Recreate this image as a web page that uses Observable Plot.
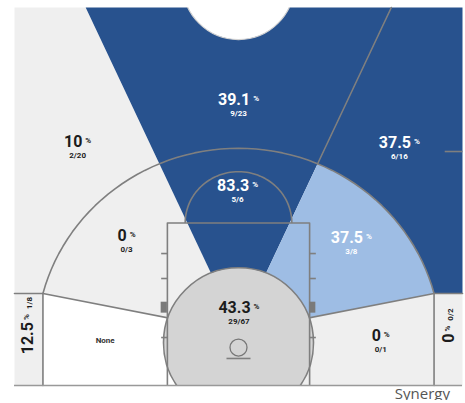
<!DOCTYPE html>
<html><head><meta charset="utf-8">
<script src="https://cdn.jsdelivr.net/npm/d3@7"></script>
<script src="https://cdn.jsdelivr.net/npm/@observablehq/plot@0.6"></script>
<style>
html,body{margin:0;padding:0;background:#fff;}
#chart svg{display:block;}
#src{font-family:"Open Sans",sans-serif;font-size:15px;color:#555;text-align:right;padding-right:15px;line-height:14px;height:14px;margin-top:-2.5px;}
</style></head><body>
<div id="chart"></div><div id="src">Synergy</div>
<script>
// ---- data ----
const zones    = ["Left Corner 3","Left Wing 3","Top 3","Right Wing 3","Right Corner 3",
                  "Left Baseline Mid","Left Wing Mid","Center Mid","Right Wing Mid","Right Baseline Mid","Restricted Area"];
const made     = [1, 2, 9, 6, 0, 0, 0, 5, 3, 0, 29];
const attempts = [8, 20, 23, 16, 2, 0, 3, 6, 8, 1, 67];
const heat     = ["cold","cold","hot","hot","cold","none","cold","hot","warm","cold","avg"];
const levels      = ["none","cold","avg","warm","hot"];
const levelColors = ["#ffffff","#efefef","#d4d4d4","#9ebde4","#28528e"];
const lightText   = ["warm","hot"];

// ---- layout: label anchors in court feet (x from centre, y from baseline) ----
const labelAt = {
  "Left Corner 3":[-23.65,7.0], "Left Wing 3":[-18.1,28.45], "Top 3":[0,33.4],
  "Right Wing 3":[18.1,28.35], "Right Corner 3":[23.65,7.0],
  "Left Baseline Mid":[-15.0,5.26], "Left Wing Mid":[-12.6,17.45], "Center Mid":[-0.1,23.3],
  "Right Wing Mid":[12.7,17.3], "Right Baseline Mid":[16.0,5.8], "Restricted Area":[0.05,9.1]
};
const rotated = ["Left Corner 3","Right Corner 3"];

// ---- court geometry (feet) ----
const deg = Math.PI/180;
const X0=-25.2, X1=25.2, Y0=0, Y1=44.2;
const HOOP={x:0,y:5};
const CX=22, CY=10.76;
const R3=Math.hypot(CX, CY-HOOP.y);
const O={x:0,y:6.3};
const SPLIT=24.4;
const aL=90+SPLIT, aR=90-SPLIT;
function rayHitArc(a){
  const dx=Math.cos(a*deg), dy=Math.sin(a*deg);
  const ux=O.x-HOOP.x, uy=O.y-HOOP.y;
  const b=ux*dx+uy*dy;
  const t=-b+Math.sqrt(b*b-(ux*ux+uy*uy)+R3*R3);
  return {x:O.x+t*dx, y:O.y+t*dy};
}
function rayHitTop(a){
  const dx=Math.cos(a*deg), dy=Math.sin(a*deg);
  const t=(Y1-O.y)/dy; return {x:O.x+t*dx, y:Y1};
}
const phiOf=p=>Math.atan2(p.y-HOOP.y,p.x-HOOP.x)/deg;
function arc(cx,cy,r,p1,p2,n=60){
  const out=[]; for(let i=0;i<=n;i++){const p=(p1+(p2-p1)*i/n)*deg; out.push({x:cx+r*Math.cos(p),y:cy+r*Math.sin(p)});} return out;
}
const pL=rayHitArc(aL), pR=rayHitArc(aR), tL=rayHitTop(aL), tR=rayHitTop(aR);
const phiL=phiOf(pL), phiR=phiOf(pR), phiC=Math.atan2(CY-HOOP.y,CX)/deg;
const a3=(p1,p2)=>arc(HOOP.x,HOOP.y,R3,p1,p2);
const shapes={
  "Left Corner 3":[{x:X0,y:0},{x:-CX,y:0},{x:-CX,y:CY},{x:X0,y:CY}],
  "Left Wing 3":[{x:X0,y:CY},...a3(180-phiC,phiL),tL,{x:X0,y:Y1}],
  "Top 3":[...a3(phiL,phiR),tR,tL],
  "Right Wing 3":[...a3(phiR,phiC),{x:X1,y:CY},{x:X1,y:Y1},tR],
  "Right Corner 3":[{x:CX,y:0},{x:X1,y:0},{x:X1,y:CY},{x:CX,y:CY}],
  "Left Baseline Mid":[O,{x:-CX,y:CY},{x:-CX,y:0},{x:0,y:0}],
  "Left Wing Mid":[O,...a3(180-phiC,phiL)],
  "Center Mid":[O,...a3(phiL,phiR)],
  "Right Wing Mid":[O,...a3(phiR,phiC)],
  "Right Baseline Mid":[O,{x:0,y:0},{x:CX,y:0},{x:CX,y:CY}]
};
const polyRows=zones.flatMap((z,i)=>(shapes[z]||[]).map(p=>({zone:z,level:heat[i],x:p.x,y:p.y})));
const raRow=[{x:HOOP.x,y:HOOP.y,level:heat[zones.indexOf("Restricted Area")]}];

const LINE="#7f7f7f";
const segs=[];
const addSeg=(id,pts)=>pts.forEach(p=>segs.push({id,x:p.x,y:p.y}));
addSeg("three",[{x:-CX,y:0},...a3(180-phiC,phiC),{x:CX,y:0}]);
addSeg("ctopL",[{x:X0,y:CY},{x:-CX,y:CY}]);
addSeg("ctopR",[{x:CX,y:CY},{x:X1,y:CY}]);
addSeg("rayTopR",[pR,tR]);
addSeg("baseL",[{x:-CX,y:CY},O]);
addSeg("baseR",[{x:CX,y:CY},O]);
const courtSegs=[];
const addC=(id,pts)=>pts.forEach(p=>courtSegs.push({id,x:p.x,y:p.y}));
addC("lane",[{x:-8,y:0},{x:-8,y:19},{x:8,y:19},{x:8,y:0}]);
addC("ft",arc(0,19,6,180,0));
[15.43,12.51,5.61].forEach((y,k)=>{addC("tl"+k,[{x:-8.7,y},{x:-8,y}]);addC("tr"+k,[{x:8,y},{x:8.7,y}]);});
addC("board",[{x:-1.35,y:3.16},{x:1.35,y:3.16}]);
addC("side",[{x:23.2,y:27.36},{x:X1,y:27.36}]);
const blocks=[{x1:-8.7,x2:-8,y1:8.46,y2:9.74},{x1:8,x2:8.7,y1:8.46,y2:9.74}];

// ---- labels ----
const fmtPct=v=>d3.format(".1f")(v).replace(/\.0$/,"");
const labelRows=zones.map((z,i)=>({zone:z,level:heat[i],x:labelAt[z][0],y:labelAt[z][1],
  pct:attempts[i]?fmtPct(100*made[i]/attempts[i]):"None",frac:`${made[i]}/${attempts[i]}`,att:attempts[i]}));
const flat=labelRows.filter(d=>!rotated.includes(d.zone)&&d.att>0);
const flatLight=flat.filter(d=>lightText.includes(d.level));
const flatDark=flat.filter(d=>!lightText.includes(d.level));
const noneRows=labelRows.filter(d=>d.att===0);
const cornerRows=labelRows.filter(d=>rotated.includes(d.zone));
const FONT="Roboto, 'Liberation Sans', sans-serif";
const DARK="#1c1c1c";

const svg=Plot.plot({
  width:465,height:388,marginLeft:14,marginRight:3,marginTop:7,marginBottom:3,
  x:{domain:[X0,X1],axis:null},y:{domain:[Y0,Y1],axis:null},
  color:{domain:levels,range:levelColors},
  style:{fontFamily:FONT,background:"transparent"},
  marks:[
    Plot.line(polyRows,{x:"x",y:"y",z:"zone",fill:"level",stroke:"none",curve:"linear-closed"}),
    Plot.dot([{x:0,y:47}],{x:"x",y:"y",r:56,fill:"white",stroke:"#d2d2d2",strokeWidth:1.2,clip:true}),
    Plot.line(segs,{x:"x",y:"y",z:"id",stroke:LINE,strokeWidth:1.6}),
    Plot.dot(raRow,{x:"x",y:"y",r:75,fill:"level",stroke:LINE,strokeWidth:1.6,clip:true}),
    Plot.line(courtSegs,{x:"x",y:"y",z:"id",stroke:LINE,strokeWidth:1.6,strokeLinecap:"butt"}),
    Plot.rect(blocks,{x1:"x1",x2:"x2",y1:"y1",y2:"y2",fill:"#7a7a7a"}),
    Plot.dot([{x:0,y:4.44}],{x:"x",y:"y",r:8.5,fill:"none",stroke:"#777",strokeWidth:1.3}),
    Plot.ruleY([0],{stroke:"#999",strokeWidth:1.5}),
    Plot.text(flatLight,{x:"x",y:"y",text:"pct",fill:"white",fontSize:16,fontWeight:700}),
    Plot.text(flatDark,{x:"x",y:"y",text:"pct",fill:DARK,fontSize:16,fontWeight:700}),
    Plot.text(flatLight,{x:"x",y:"y",text:"frac",dy:13.5,fill:"white",fontSize:8,fontWeight:700}),
    Plot.text(flatDark,{x:"x",y:"y",text:"frac",dy:13.5,fill:DARK,fontSize:8,fontWeight:700}),
    Plot.text(noneRows,{x:"x",y:"y",text:"pct",fill:"#333",fontSize:8,fontWeight:700}),
    Plot.text(cornerRows,{x:"x",y:"y",text:"pct",rotate:-90,fill:DARK,fontSize:16,fontWeight:700})
  ]
});
document.getElementById("chart").appendChild(svg);

// percent signs and rotated fractions as tspans (text groups in mark order)
const ns="http://www.w3.org/2000/svg";
function tspan(txt,attrs){const el=document.createElementNS(ns,"tspan");for(const k in attrs)el.setAttribute(k,attrs[k]);el.textContent=txt;return el;}
const textGroups=svg.querySelectorAll('g[aria-label="text"]');
[textGroups[0],textGroups[1]].forEach(g=>g&&g.querySelectorAll("text").forEach(t=>t.appendChild(tspan("%",{"font-size":8,dx:3,dy:-4}))));
if(textGroups[5]) textGroups[5].querySelectorAll("text").forEach((t,i)=>{
  t.appendChild(tspan("%",{"font-size":8,dx:2,dy:-4}));
  t.appendChild(tspan(cornerRows[i].frac,{"font-size":8,dx:5,dy:3}));
});
</script></body></html>
